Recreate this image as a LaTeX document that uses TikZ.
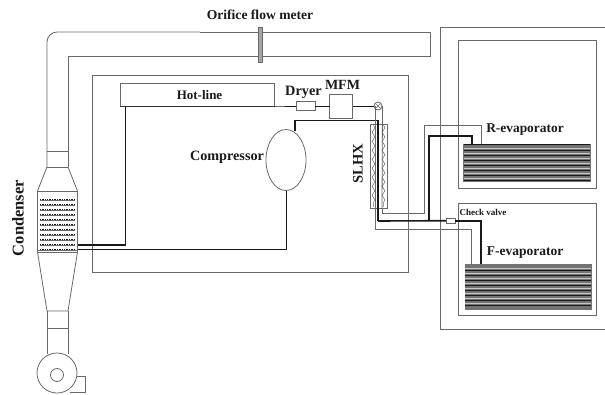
\documentclass[tikz,border=0pt]{standalone}
\usepackage{fontspec}
\setmainfont{Liberation Serif}
\usepackage{xcolor}
\usetikzlibrary{shapes.geometric, positioning, calc, decorations.pathmorphing}
\definecolor{ductgray}{RGB}{105,105,105}
\definecolor{pipedark}{RGB}{25,25,25}
\definecolor{coilgray}{RGB}{115,115,115}
\definecolor{coillight}{RGB}{200,200,200}
\tikzset{
  duct/.style={draw=ductgray, line width=0.8pt},
  thinpipe/.style={draw=ductgray, line width=0.8pt},
  midpipe/.style={draw=pipedark, line width=1pt},
  fatpipe/.style={draw=pipedark, line width=1.6pt},
  box/.style={rectangle, draw=ductgray, line width=0.8pt, inner sep=0pt, outer sep=0pt},
  coil/.style={box, fill=coilgray, draw=coilgray},
  label/.style={font=\bfseries, inner sep=0pt, text=pipedark},
  wavy/.style={draw=ductgray, line width=0.5pt, decorate,
    decoration={snake, amplitude=1.4pt, segment length=9pt}},
}
\begin{document}
\begin{tikzpicture}[x=1pt, y=-1pt]
  \useasboundingbox (0,0) rectangle (605,394);
  % air duct and condenser
  \draw[duct, rounded corners=10pt] (47,167) -- (47,32) -- (200,32);
  \draw[duct] (200,32) -- (430,32) -- (430,56) -- (68,56) -- (68,167);
  \draw[duct] (47,151) -- (68,151);
  \draw[duct] (47,167) -- (68,167);
  \node[box, minimum width=40pt, minimum height=61pt] (cond) at (57.5,221.5) {};
  \draw[duct] (47,167) -- (cond.north west);
  \draw[duct] (68,167) -- (cond.north east);
  \draw[duct] (cond.south west) -- (47,311) -- (68,311) -- (cond.south east);
  \draw[duct] (47,311) -- (47,354);
  \draw[duct] (68,311) -- (68,354);
  \draw[duct] (47,328) -- (68,328);
  \draw[duct] (37.5,250) -- (77.5,250);
  \draw[draw=ductgray, line width=1.4pt] (cond.north west |- 0,198) -- (cond.south west);
  \draw[draw=ductgray, line width=1.4pt] (cond.north east |- 0,198) -- (cond.south east);
  \foreach \y in {199,204,...,249} {
    \draw[pipedark, line width=1pt, dash pattern=on 0.9pt off 0.8pt] (40,\y) -- (75,\y);
    \draw[ductgray, line width=0.4pt] (40,\y+1.2) -- (75,\y+1.2);
  }
  % fan
  \node[box, circle, fill=white, minimum size=40pt] (fan) at (57,373) {};
  \node[box, circle, minimum size=13pt] (fanhub) at (57,375) {};
  \draw[duct] (fan.east |- 0,376) -- (85.5,376) -- (85.5,392) -- (70,392);
  % refrigerant loop
  \node[box, minimum width=315.5pt, minimum height=197.5pt] (loop) at (250.2,173.7) {};
  \node[box, minimum width=154pt, minimum height=23pt] (hotline) at (197,94.5) {};
  \node[label, font=\bfseries\fontsize{13}{14}\selectfont] (hotlbl) at (199.5,95) {Hot-line};
  \node[box, minimum width=19pt, minimum height=9pt] (dryer) at (305.5,106) {};
  \node[box, minimum width=23pt, minimum height=24pt] (mfm) at (341,106) {};
  \node[box, circle, minimum size=8pt, path picture={
    \draw[ductgray, line width=0.5pt] (path picture bounding box.north west) -- (path picture bounding box.south east);
    \draw[ductgray, line width=0.5pt] (path picture bounding box.north east) -- (path picture bounding box.south west);
  }] (valve) at (378,106) {};
  \node[box, ellipse, minimum width=40pt, minimum height=61pt] (comp) at (286,160) {};
  \node[box, minimum width=17pt, minimum height=84pt] (slhx) at (378.5,166) {};
  \node[label, font=\bfseries\fontsize{14.3}{15}\selectfont] (dryerlbl) at (303.5,92) {Dryer};
  \node[label, font=\bfseries\fontsize{14}{15}\selectfont] (mfmlbl) at (342.5,85) {MFM};
  \node[label, font=\bfseries\fontsize{14.2}{15}\selectfont] (complbl) at (227,157) {Compressor};
  \node[label, font=\bfseries\fontsize{14.5}{15}\selectfont, rotate=90] (slhxlbl) at (358,163.5) {SLHX};
  \node[label, font=\bfseries\fontsize{16.5}{17}\selectfont, rotate=90] (condlbl) at (18,218) {Condenser};
  \node[label, font=\bfseries\fontsize{13.6}{14}\selectfont] (orificelbl) at (260,15) {Orifice flow meter};
  \node[rectangle, fill=gray!70, draw=ductgray, line width=0.4pt, minimum width=4pt, minimum height=35pt, inner sep=0pt] (orifice) at (260,44.5) {};
  \coordinate (hotdrop) at (125.5,106);
  \coordinate (condin) at (77.5,245);
  \coordinate (condout) at (77.5,249.5);
  \coordinate (comptop) at (295,131);
  \coordinate (sucttop) at (378,120.5);
  \coordinate (suctbot) at (378,221);
  \draw[fatpipe] (hotdrop) |- (condin);
  \draw[midpipe] (hotline.south west) -- (hotline.south east) -- (dryer.west);
  \draw[midpipe] (dryer.east) -- (mfm.west);
  \draw[midpipe] (mfm.east) -- (valve.west);
  \draw[midpipe] (comp.south) |- (condout);
  \draw[fatpipe] (comptop) |- (sucttop) -- (suctbot);
  % heat exchanger
  \draw[wavy] (373.5,125) -- (373.5,207);
  \draw[wavy] (383.5,125) -- (383.5,207);
  \coordinate (valveleft) at (375,106);
  \coordinate (valveright) at (382.5,106);
  \coordinate (slhxleft) at (375,208);
  \coordinate (slhxright) at (382,208);
  \draw[thinpipe] (valveleft) -- (slhxleft);
  \draw[thinpipe] (valveright) -- (slhxright);
  % evaporator room
  \draw[duct] (605,27) -- (440,27) -- (440,329) -- (605,329);
  \node[box, minimum width=138.5pt, minimum height=148pt] (rbox) at (527.5,114) {};
  \node[box, minimum width=138pt, minimum height=112.5pt] (fbox) at (527.2,259.5) {};
  \node[coil, minimum width=126.5pt, minimum height=37pt] (rcoil) at (526.8,162.5) {};
  \node[coil, minimum width=126pt, minimum height=45pt] (fcoil) at (528,286.5) {};
  \foreach \y in {148,153,...,178} {
    \draw[coillight, line width=0.6pt] (rcoil.west |- 0,\y) -- (rcoil.east |- 0,\y);
    \draw[pipedark, line width=0.4pt] (rcoil.west |- 0,\y+2.2) -- (rcoil.east |- 0,\y+2.2);
  }
  \foreach \y in {268,273,...,306} {
    \draw[coillight, line width=0.6pt] (fcoil.west |- 0,\y) -- (fcoil.east |- 0,\y);
    \draw[pipedark, line width=0.4pt] (fcoil.west |- 0,\y+2.2) -- (fcoil.east |- 0,\y+2.2);
  }
  \draw[pipedark, line width=1pt] (rcoil.north west) -- (rcoil.north east);
  \node[box, fill=white, minimum width=9.5pt, minimum height=5pt] (check) at (450.7,220.7) {};
  \node[label, font=\bfseries\fontsize{13.4}{14}\selectfont] (rlbl) at (525,130) {R-evaporator};
  \node[label, font=\bfseries\fontsize{13.5}{14}\selectfont] (flbl) at (525,253) {F-evaporator};
  \node[label, font=\bfseries\fontsize{9}{10}\selectfont] (checklbl) at (483,212) {Check valve};
  % pipes to the evaporators
  \coordinate (rthick) at (472,144);
  \coordinate (rthin) at (481,144);
  \coordinate (fthick) at (481,264);
  \coordinate (fthin) at (471.7,264);
  \coordinate (junction) at (429,220.7);
  \draw[fatpipe] (suctbot) -- (check.west);
  \draw[fatpipe] (check.east) -| (fthick);
  \draw[fatpipe] (junction) -- (429,136) -| (rthick);
  \draw[thinpipe] (slhxright) -- (382,213) -- (424,213) -- (424,125.7) -| (rthin);
  \draw[thinpipe] (slhxleft) |- (fthin |- 0,229) -- (fthin);
\end{tikzpicture}
\end{document}
